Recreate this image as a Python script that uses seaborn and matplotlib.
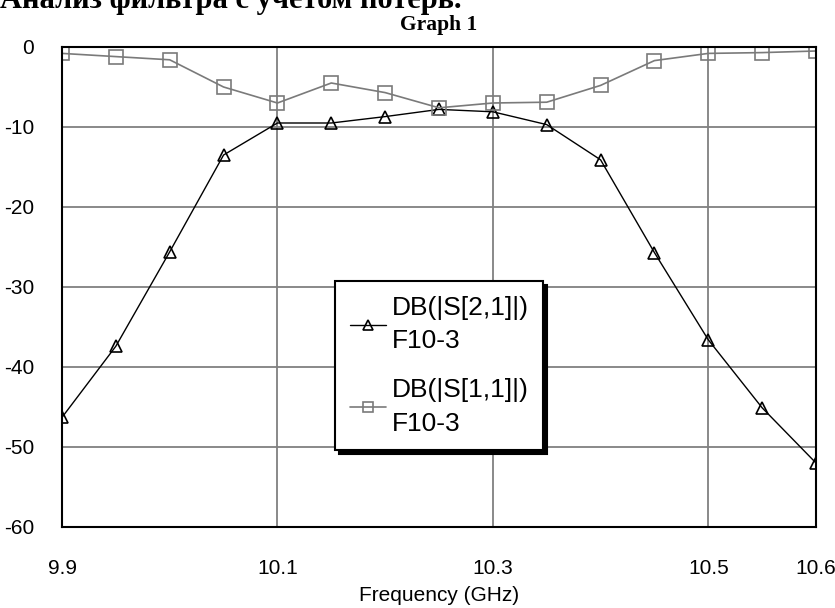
import numpy as np
import pandas as pd
import matplotlib
matplotlib.use("Agg")
import matplotlib.pyplot as plt
import seaborn as sns

# values
freq = [9.9, 9.95, 10.0, 10.05, 10.1, 10.15, 10.2, 10.25, 10.3, 10.35, 10.4, 10.45, 10.5, 10.55, 10.6]
s21_db = [-46.3, -37.4, -25.6, -13.5, -9.5, -9.5, -8.7, -7.8, -8.1, -9.7, -14.1, -25.7, -36.6, -45.1, -52.0]
s11_db = [-0.8, -1.2, -1.6, -5.0, -7.0, -4.5, -5.7, -7.6, -7.0, -6.9, -4.8, -1.7, -0.8, -0.7, -0.5]
x_ticks = [9.9, 10.1, 10.3, 10.5, 10.6]
x_ticklabels = ["9.9", "10.1", "10.3", "10.5", "10.6"]
y_ticks = [-60, -50, -40, -30, -20, -10, 0]
label_s21 = "DB(|S[2,1]|)\nF10-3"
label_s11 = "DB(|S[1,1]|)\nF10-3"

sns.set_style("white")
plt.rcParams["font.family"] = ["Liberation Sans", "DejaVu Sans"]
plt.rcParams["axes.unicode_minus"] = False
plt.rcParams["text.color"] = "black"
plt.rcParams["axes.labelcolor"] = "black"
plt.rcParams["xtick.color"] = "black"
plt.rcParams["ytick.color"] = "black"

df = pd.DataFrame({"freq": freq, "s21": s21_db, "s11": s11_db})

fig = plt.figure(figsize=(8.35, 6.08), dpi=100)
ax = fig.add_axes([62 / 835, 1 - 527 / 608, (816 - 62) / 835, (527 - 47) / 608])

sns.lineplot(data=df, x="freq", y="s21", ax=ax, color="black", lw=1.0,
             marker="^", markersize=8, markerfacecolor="none",
             markeredgecolor="black", markeredgewidth=1.2, label=label_s21)
sns.lineplot(data=df, x="freq", y="s11", ax=ax, color="#7a7a7a", lw=1.2,
             marker="s", markersize=9.5, markerfacecolor="none",
             markeredgecolor="#7a7a7a", markeredgewidth=1.2, label=label_s11)

ax.set_xlim(9.9, 10.6)
ax.set_ylim(-60, 0)
ax.set_xticks(x_ticks)
ax.set_xticklabels(x_ticklabels)
ax.set_yticks(y_ticks)
ax.tick_params(axis="both", length=0, labelsize=15)
ax.tick_params(axis="x", pad=23)
ax.tick_params(axis="y", pad=20)

for v in [10.1, 10.3, 10.5]:
    ax.axvline(v, color="#808080", lw=1.3, zorder=0)
for v in [-50, -40, -30, -20, -10]:
    ax.axhline(v, color="#808080", lw=1.3, zorder=0)

for sp in ax.spines.values():
    sp.set_color("black")
    sp.set_linewidth(1.5)

ax.set_xlabel("Frequency (GHz)", fontsize=15, labelpad=6)
ax.set_ylabel("")

ax.set_title("Graph 1", fontsize=15.5, fontweight="bold",
             family=["Liberation Serif", "DejaVu Serif"], pad=12)

fig.text(0.0, 1 - 8 / 608, "Анализ фильтра с учетом потерь.", fontsize=22,
         fontweight="bold", family=["Liberation Serif", "DejaVu Serif"],
         ha="left", va="baseline")

leg = ax.legend(loc="upper left", bbox_to_anchor=((335 - 62) / 754, (527 - 281) / 480),
                borderaxespad=0, fontsize=19, frameon=True, fancybox=False,
                handlelength=1.4, handletextpad=0.2, labelspacing=0.95,
                borderpad=0.55, alignment="left",
                shadow={"ox": 3, "oy": -3, "color": "black", "alpha": 1})
leg.get_frame().set_edgecolor("black")
leg.get_frame().set_linewidth(1.5)
leg.get_frame().set_facecolor("white")
leg.get_frame().set_alpha(1)
for t in leg.get_texts():
    t.set_linespacing(1.5)
for h in leg.legend_handles:
    h.set_markersize(7)

fig.savefig("out.png", dpi=100)
